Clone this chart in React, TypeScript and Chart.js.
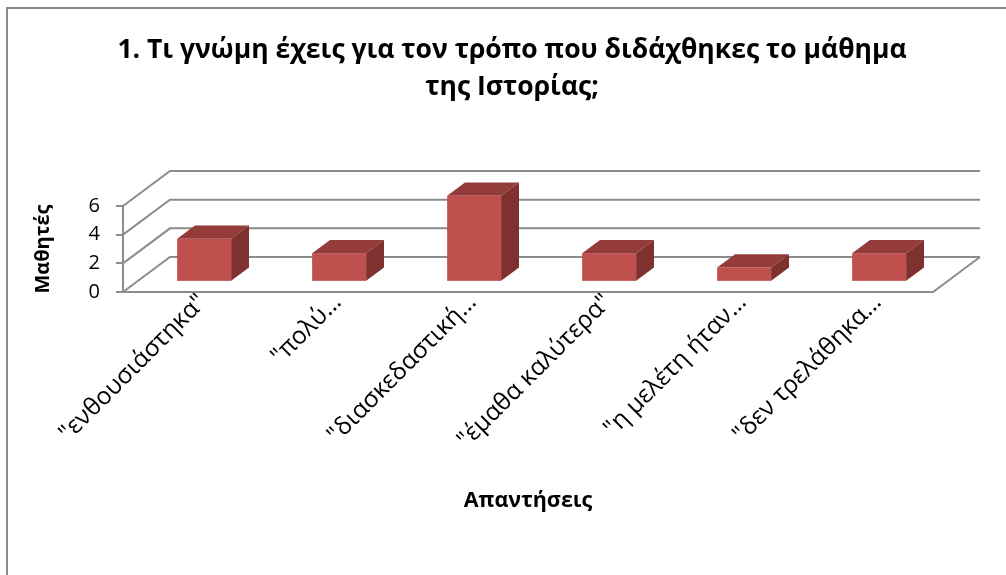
import React, { useEffect, useRef } from "react";
import { Chart, registerables } from "chart.js";

Chart.register(...registerables);

// ---- data ----
const categories = [
  '"ενθουσιάστηκα"',
  '"πολύ…',
  '"διασκεδαστική…',
  '"έμαθα καλύτερα"',
  '"η μελέτη ήταν…',
  '"δεν τρελάθηκα…',
];
const values = [3, 2, 6, 2, 1, 2];
const yTicks = [0, 2, 4, 6];
const titleLines = [
  "1. Τι γνώμη έχεις για τον τρόπο που διδάχθηκες το μάθημα",
  "της Ιστορίας;",
];
const xTitle = "Απαντήσεις";
const yTitle = "Μαθητές";

// ---- style ----
const FONT = "'Open Sans', 'Noto Sans', sans-serif";
const GRID = "#8c8c8c";
const FRONT = "#c0504d";
const TOP = "#943c39";
const SIDE = "#7e312f";
const DX = 47;
const DY = -35;
const BAR_FRONT = 0.29;
const BAR_BACK = 0.67;

const box3d = {
  id: "box3d",
  beforeDraw(chart: any) {
    const { ctx } = chart;
    ctx.save();
    ctx.strokeStyle = "#8a8a8a";
    ctx.lineWidth = 2;
    ctx.strokeRect(7, 8, 2000, 2000);
    ctx.restore();
  },
  beforeDatasetsDraw(chart: any) {
    const { ctx, chartArea: a, scales } = chart;
    const ys = scales.y;
    ctx.save();
    ctx.strokeStyle = GRID;
    ctx.lineWidth = 2;
    ys.ticks.forEach((t: any) => {
      const py = ys.getPixelForValue(t.value);
      ctx.beginPath();
      ctx.moveTo(a.left, py);
      ctx.lineTo(a.left + DX, py + DY);
      ctx.lineTo(a.right + DX, py + DY);
      ctx.stroke();
    });
    const by = ys.getPixelForValue(0);
    ctx.beginPath();
    ctx.moveTo(a.left, by);
    ctx.lineTo(a.right, by);
    ctx.lineTo(a.right + DX, by + DY);
    ctx.stroke();
    ctx.beginPath();
    ctx.moveTo(a.left, ys.getPixelForValue(ys.max));
    ctx.lineTo(a.left, by);
    ctx.stroke();
    ctx.restore();
  },
  afterDatasetsDraw(chart: any) {
    const { ctx } = chart;
    const meta = chart.getDatasetMeta(0);
    const ox = DX * BAR_FRONT;
    const oy = DY * BAR_FRONT;
    const ddx = DX * (BAR_BACK - BAR_FRONT);
    const ddy = DY * (BAR_BACK - BAR_FRONT);
    ctx.save();
    meta.data.forEach((bar: any) => {
      const { x, y, base, width } = bar.getProps(["x", "y", "base", "width"], true);
      const l = x - width / 2 + ox;
      const r = x + width / 2 + ox;
      const t = y + oy;
      const b = base + oy;
      ctx.fillStyle = FRONT;
      ctx.fillRect(l, t, r - l, b - t);
      ctx.fillStyle = TOP;
      ctx.beginPath();
      ctx.moveTo(l, t);
      ctx.lineTo(r, t);
      ctx.lineTo(r + ddx, t + ddy);
      ctx.lineTo(l + ddx, t + ddy);
      ctx.closePath();
      ctx.fill();
      ctx.fillStyle = SIDE;
      ctx.beginPath();
      ctx.moveTo(r, t);
      ctx.lineTo(r + ddx, t + ddy);
      ctx.lineTo(r + ddx, b + ddy);
      ctx.lineTo(r, b);
      ctx.closePath();
      ctx.fill();
    });
    ctx.restore();
  },
};

export default function App() {
  const ref = useRef<HTMLCanvasElement | null>(null);
  useEffect(() => {
    document.body.style.margin = "0";
    const canvas = ref.current;
    if (!canvas) return;
    const chart = new Chart(canvas, {
      type: "bar",
      data: {
        labels: categories,
        datasets: [
          {
            data: values,
            backgroundColor: "rgba(0,0,0,0)",
            borderWidth: 0,
            barPercentage: 0.4,
            categoryPercentage: 1,
          },
        ],
      },
      options: {
        animation: false,
        responsive: false,
        devicePixelRatio: 1,
        layout: { padding: { left: 18, right: 0, top: 0, bottom: 0 } },
        plugins: {
          legend: { display: false },
          tooltip: { enabled: false },
          title: {
            display: true,
            text: titleLines,
            color: "#000",
            font: { family: FONT, size: 26.5, weight: "bold", lineHeight: "37px" },
            padding: { top: 31.5, bottom: 100.5 },
          },
        },
        scales: {
          x: {
            grid: { display: false, drawTicks: false },
            border: { display: false },
            ticks: {
              autoSkip: false,
              minRotation: 45,
              maxRotation: 45,
              color: "#000",
              padding: -4,
              labelOffset: 12,
              font: { family: FONT, size: 24.5 },
            },
            title: {
              display: true,
              text: xTitle,
              color: "#000",
              font: { family: FONT, size: 21.5, weight: "bold", lineHeight: "26px" },
              padding: { top: 0, bottom: 61 },
            },
            afterFit: (s: any) => {
              s.height = 283;
            },
          },
          y: {
            min: 0,
            max: 6,
            afterBuildTicks: (s: any) => {
              s.ticks = yTicks.map((v) => ({ value: v }));
            },
            grid: {
              display: true,
              drawOnChartArea: false,
              drawTicks: true,
              tickLength: 7,
              color: GRID,
              lineWidth: 2,
            },
            border: { display: false },
            ticks: {
              color: "#000",
              padding: 16,
              font: { family: FONT, size: 20 },
            },
            title: {
              display: true,
              text: yTitle,
              color: "#000",
              font: { family: FONT, size: 20, weight: "bold", lineHeight: "24px" },
              padding: { top: 13, bottom: 0 },
            },
            afterFit: (s: any) => {
              s.width = 105;
            },
          },
          y2: {
            position: "right",
            display: true,
            grid: { display: false, drawTicks: false },
            border: { display: false },
            ticks: { display: false },
            afterFit: (s: any) => {
              s.width = 73;
            },
          },
        },
      },
      plugins: [box3d],
    });
    return () => chart.destroy();
  }, []);
  return (
    <div style={{ width: 1006, height: 575, overflow: "hidden", background: "#fff" }}>
      <canvas ref={ref} width={1006} height={575} style={{ display: "block" }} />
    </div>
  );
}
